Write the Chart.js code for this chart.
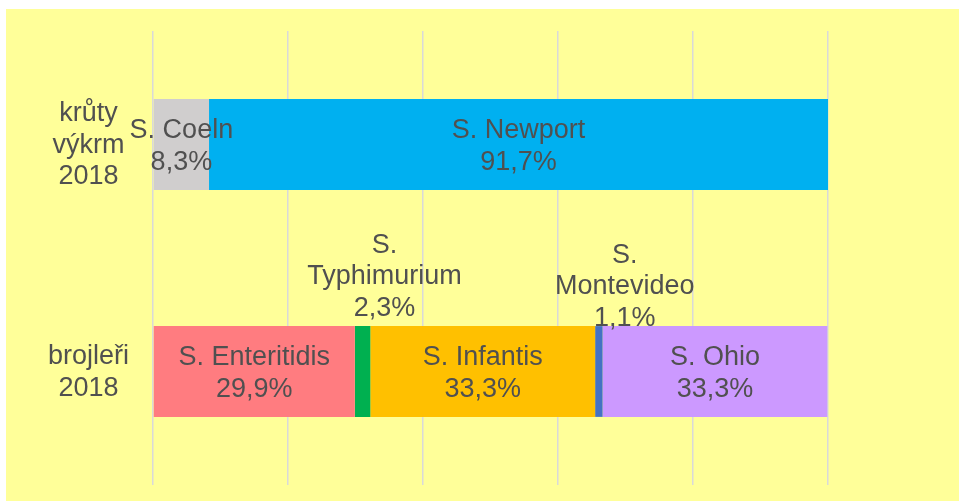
<!DOCTYPE html>
<html>
<head>
<meta charset="utf-8">
<script src="https://cdn.jsdelivr.net/npm/chart.js@4"></script>
<style>
  html, body { margin: 0; padding: 0; background: #fff; }
  #wrap { width: 959px; height: 501px; position: relative; }
</style>
</head>
<body>
<div id="wrap"><canvas id="chart" width="959" height="501"></canvas></div>
<script>
// kategorie (osa Y)
const categories = [['krůty', 'výkrm', '2018'], ['brojleři', '2018']];

// sérotypy a jejich podíly (%) pro [krůty výkrm, brojleři]
const serotypes = ['S. Coeln', 'S. Newport', 'S. Enteritidis', 'S. Typhimurium', 'S. Infantis', 'S. Montevideo', 'S. Ohio'];
const coeln       = [8.3, null];
const newport     = [91.7, null];
const enteritidis = [null, 29.9];
const typhimurium = [null, 2.3];
const infantis    = [null, 33.3];
const montevideo  = [null, 1.1];
const ohio        = [null, 33.3];

const xTicks = [0, 20, 40, 60, 80, 100];

const colors = ['#D0CECE', '#00B0F0', '#FF7C80', '#00B050', '#FFC000', '#4472C4', '#CC99FF'];
// popisky nad úzkými pruhy: posun středu popisku
const outside = { 3: { dx: 22, bottom: 18 }, 5: { dx: 26, bottom: 8 } };

const textColor = '#505050';
const FONT = '"Liberation Sans", Arial, sans-serif';
const LINE = 31.5;

const bgPlugin = {
    id: 'bg',
    beforeDraw(chart) {
        const ctx = chart.ctx;
        ctx.save();
        ctx.fillStyle = '#FFFF99';
        ctx.fillRect(6, 9, chart.width - 6, chart.height - 9);
        ctx.restore();
    }
};

const fmt = v => v.toFixed(1).replace('.', ',') + '%';

const labelPlugin = {
    id: 'barLabels',
    afterDatasetsDraw(chart) {
        const ctx = chart.ctx;
        ctx.save();
        ctx.font = '27px ' + FONT;
        ctx.fillStyle = textColor;
        ctx.textAlign = 'center';
        ctx.textBaseline = 'middle';
        chart.data.datasets.forEach((ds, i) => {
            const meta = chart.getDatasetMeta(i);
            meta.data.forEach((bar, j) => {
                const v = ds.data[j];
                if (v == null) return;
                const cx = (bar.x + bar.base) / 2;
                if (outside[i]) {
                    const lines = ds.label.split(' ').concat([fmt(v)]);
                    const top = bar.y - bar.height / 2;
                    const lastY = top - outside[i].bottom;
                    lines.forEach((t, k) => {
                        ctx.fillText(t, cx + outside[i].dx, lastY - (lines.length - 1 - k) * LINE);
                    });
                } else {
                    const lines = [ds.label, fmt(v)];
                    lines.forEach((t, k) => {
                        ctx.fillText(t, cx, bar.y + 2 + (k - (lines.length - 1) / 2) * LINE);
                    });
                }
            });
        });
        ctx.restore();
    }
};

const seriesData = [coeln, newport, enteritidis, typhimurium, infantis, montevideo, ohio];

new Chart(document.getElementById('chart'), {
    type: 'bar',
    data: {
        labels: categories,
        datasets: serotypes.map((name, i) => ({
            label: name,
            data: seriesData[i],
            backgroundColor: colors[i],
            borderWidth: 0,
            barPercentage: 0.4,
            categoryPercentage: 1
        }))
    },
    options: {
        indexAxis: 'y',
        responsive: false,
        animation: false,
        layout: { padding: { left: 0, right: 131, top: 31, bottom: 16 } },
        scales: {
            x: {
                stacked: true,
                min: 0,
                max: 100,
                afterBuildTicks: axis => { axis.ticks = xTicks.map(v => ({ value: v })); },
                afterFit: axis => { axis.height = 0; axis.paddingLeft = 0; axis.paddingRight = 0; },
                ticks: { display: false },
                grid: { color: '#D9D9D9', lineWidth: 1.5, drawTicks: false },
                border: { display: false }
            },
            y: {
                stacked: true,
                grid: { display: false },
                border: { display: false },
                afterFit: axis => { axis.width = 153; axis.paddingTop = 0; axis.paddingBottom = 0; },
                ticks: {
                    crossAlign: 'center',
                    padding: 16,
                    labelOffset: 1,
                    color: textColor,
                    font: { family: FONT, size: 27, lineHeight: 1.167 }
                }
            }
        },
        plugins: {
            legend: { display: false },
            tooltip: { enabled: false }
        }
    },
    plugins: [bgPlugin, labelPlugin]
});
</script>
</body>
</html>
